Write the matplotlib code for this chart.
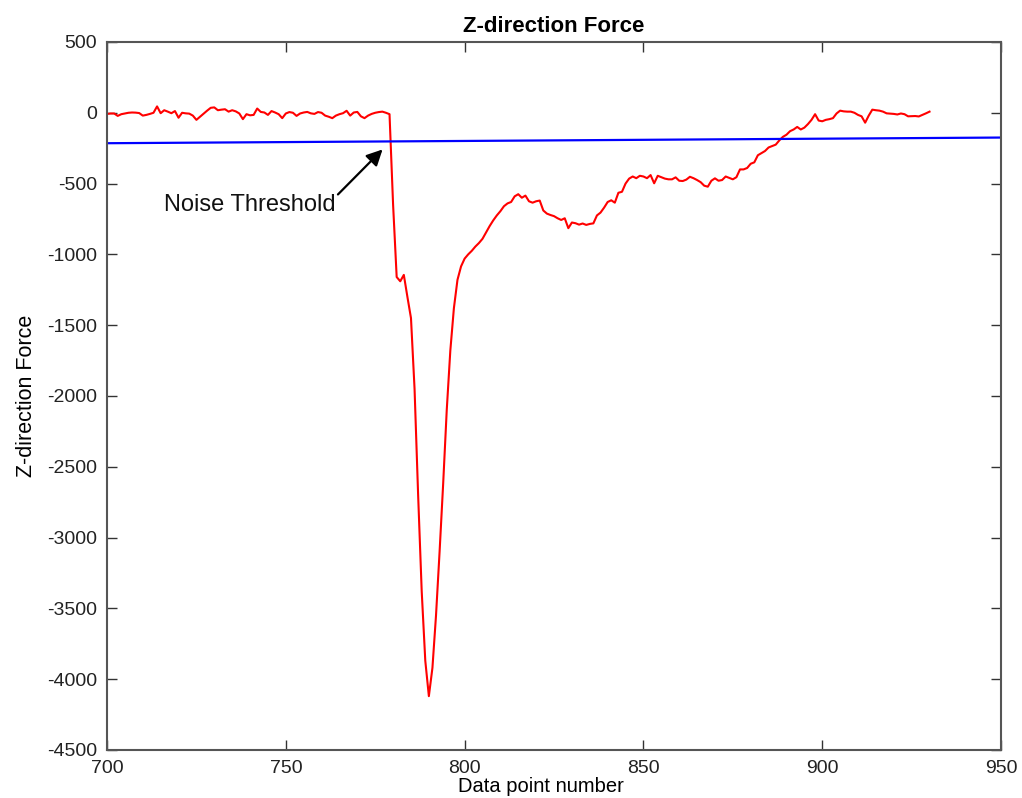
import numpy as np
import matplotlib
matplotlib.use('Agg')
from matplotlib import pyplot as plt

# Force readings (one per data point, starting at 700)

start_point = 700
force_vals = [
    -8, -5, -5, -22, -10, -5, 0, 2, 1, -2,
    -20, -15, -8, 0, 45, -3, 18, 8, -3, 12,
    -35, 0, -4, -6, -20, -50, -28, -5, 15, 35,
    38, 18, 22, 25, 8, 18, 10, -5, -45, -10,
    -18, -15, 30, 6, 2, -15, 12, 2, -10, -38,
    -5, 5, 0, -22, -5, 2, 6, -4, -8, 5,
    0, -20, -28, -38, -20, -10, -3, 14, -20, 2,
    6, -25, -38, -20, -8, 0, 5, 8, 0, -10,
    -650, -1160, -1190, -1145, -1300, -1450, -1950, -2700, -3380, -3870,
    -4120, -3920, -3550, -3100, -2620, -2100, -1680, -1380, -1180, -1085,
    -1030, -1000, -975, -945, -920, -890, -845, -800, -760, -725,
    -695, -660, -640, -630, -590, -575, -600, -585, -625, -635,
    -625, -620, -690, -712, -722, -730, -745, -757, -745, -815,
    -775, -780, -790, -782, -792, -785, -781, -725, -705, -670,
    -630, -618, -635, -565, -558, -500, -465, -450, -462, -445,
    -450, -462, -440, -498, -445, -455, -465, -470, -470, -456,
    -480, -482, -472, -452, -462, -475, -490, -515, -522, -480,
    -463, -480, -475, -450, -460, -470, -455, -400, -400, -390,
    -360, -350, -300, -285, -270, -245, -235, -225, -195, -170,
    -155, -130, -118, -100, -118, -105, -80, -50, -10, -55,
    -60, -50, -45, -38, -5, 15, 10, 8, 8, 0,
    -15, -25, -70, -20, 22, 18, 15, 8, -4, -6,
    -8, -12, -5, -10, -25, -24, -23, -26, -15, -4,
    8,
]

# Noise threshold line end points
thresh_x = [700, 950]
thresh_y = [-215, -175]

x_vals = np.arange(start_point, start_point + len(force_vals))

x_ticks = np.arange(700, 951, 50)
y_ticks = np.arange(-4500, 501, 500)

plt.rcParams['font.family'] = ['Liberation Sans', 'DejaVu Sans']
plt.rcParams['axes.unicode_minus'] = False

fig = plt.figure(figsize=(10.22, 7.98), dpi=100)
ax = fig.add_axes([0.1047, 0.0602, 0.8748, 0.8872])

ax.plot(x_vals, force_vals, color='#ff0000', lw=1.5)
ax.plot(thresh_x, thresh_y, color='#0000ff', lw=1.6)

ax.annotate('Noise Threshold', xy=(777.6, -245), xytext=(763.8, -651),
            ha='right', va='center', fontsize=17, color='#111111',
            arrowprops=dict(arrowstyle='-|>', color='k', lw=1.6,
                            mutation_scale=24, shrinkA=0, shrinkB=2,
                            relpos=(1.0, 0.85)))

ax.set_xlim(700, 950)
ax.set_ylim(-4500, 500)
ax.set_xticks(x_ticks)
ax.set_yticks(y_ticks)

ax.tick_params(direction='in', top=True, right=True, length=7, width=1,
               labelsize=14, color='#333333', labelcolor='#222222', pad=7)
for spine in ax.spines.values():
    spine.set_linewidth(1.5)
    spine.set_color('#555555')

ax.set_title('Z-direction Force', fontsize=16, fontweight='bold', pad=7)
ax.set_xlabel('Data point number', fontsize=14.5, labelpad=0)
ax.xaxis.label.set_x(0.485)
ax.set_ylabel('Z-direction Force', fontsize=15.5, labelpad=7)

fig.savefig('out.png', dpi=100)
